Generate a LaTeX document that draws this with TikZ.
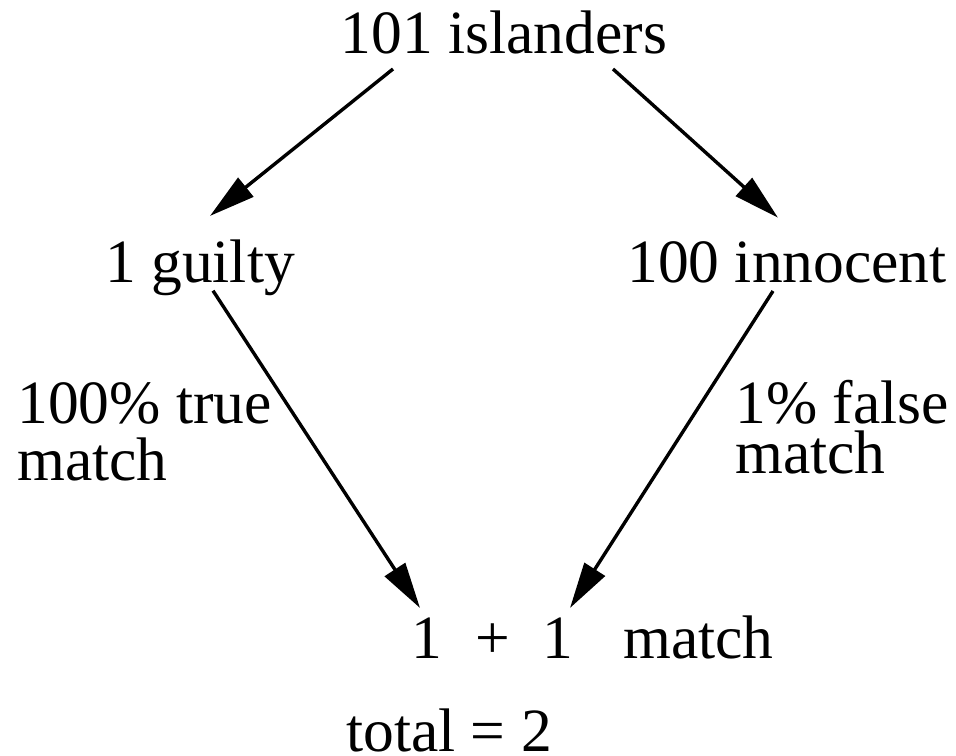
\documentclass[tikz,border=0pt]{standalone}
\usepackage{fontspec}
\setmainfont{Liberation Serif}
\usetikzlibrary{arrows.meta,calc}

\begin{document}
\begin{tikzpicture}[
    x=0.5pt, y=-0.5pt,
    txt/.style={inner sep=0pt, anchor=base, font=\fontsize{30.75}{25}\selectfont},
    lbl/.style={txt, anchor=base west, align=left},
    arr/.style={-{Triangle[length=23pt, width=12pt]}, line width=1.7pt}
]
\useasboundingbox (0,0) rectangle (956,755);

\node[txt] (isl) at (504,53) {101 islanders};
\node[txt] (guilty) at (200,282) {1 guilty};
\node[txt] (innoc) at (787,282) {100 innocent};
\node[lbl] (truem) at (17,480) {100\% true\\[3.5pt]match};
\node[lbl] (falsem) at (735,473) {1\% false\\match};
\node[txt] (oneA) at (427,658) {1};
\node[txt] (plus) at (493,658) {+};
\node[txt] (oneB) at (558,658) {1};
\node[txt, anchor=base west] (mtch) at (623,658) {match};
\node[txt] (total) at (449,751) {total = 2};

\draw[arr] ($(isl.south)+(-111,15)$) -- ($(guilty.north)+(10,-23)$);
\draw[arr] ($(isl.south)+(109,15)$) -- ($(innoc.north)+(-9,-23)$);
\draw[arr] ($(guilty.south)+(13,-5)$) -- ($(oneA.north)+(-7,-9)$);
\draw[arr] ($(innoc.south)+(-14,8)$) -- ($(oneB.north)+(12,-9)$);
\end{tikzpicture}
\end{document}
